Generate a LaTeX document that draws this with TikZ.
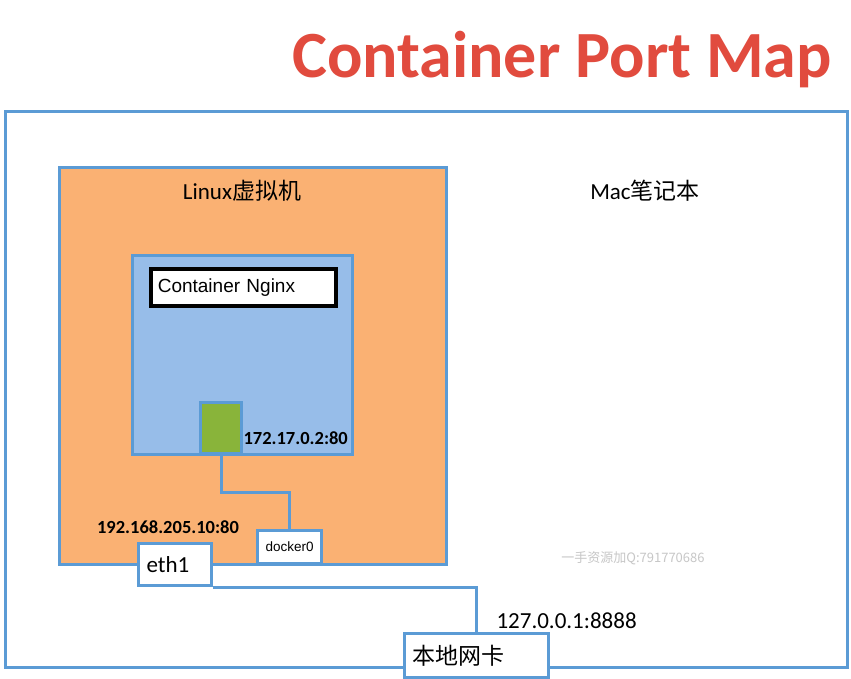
\documentclass[tikz,border=0pt]{standalone}
\usepackage{fontspec}
\setmainfont{Carlito}
\newfontfamily\cjk{Noto Sans CJK SC}
\newfontfamily\arialfont{Liberation Sans}
\usetikzlibrary{positioning}
\definecolor{edgeblue}{HTML}{5B9BD5}
\definecolor{vmorange}{HTML}{FAB173}
\definecolor{ctblue}{HTML}{97BDE9}
\definecolor{portgreen}{HTML}{89B43A}
\definecolor{titlered}{HTML}{E14B3E}

\begin{document}
\begin{tikzpicture}[x=1pt, y=-1pt, node distance=2pt]
  \tikzstyle{block} = [draw=edgeblue, line width=3.2pt, rectangle, inner sep=0pt, anchor=north west]
  \tikzstyle{iface} = [block, fill=white, inner xsep=8pt, align=left]
  \tikzstyle{addr} = [font=\bfseries\fontsize{18.5}{20}\selectfont]
  \tikzstyle{link} = [draw=edgeblue, line width=3.2pt]
  \useasboundingbox (0,0) rectangle (851,678);
  \fill [white] (0,0) rectangle (851,678);

  \node [anchor=base, text=titlered, font=\bfseries\fontsize{66}{70}\selectfont] (title) at (562,77) {Container Port Map};

  \node [block, minimum width=842pt, minimum height=556pt] (mac) at (4,110) {};
  \node [font=\fontsize{23}{26}\selectfont] (maclabel) at (645,191) {Mac\cjk 笔记本};
  \node [block, fill=vmorange, minimum width=387pt, minimum height=397pt] (linux) at (58,166) {};
  \node [font=\fontsize{23}{26}\selectfont] (linuxlabel) at (242,191) {Linux\cjk 虚拟机};

  \node [block, fill=ctblue, minimum width=220pt, minimum height=199pt] (container) at (131,254) {};
  \node [block, draw=black, line width=3.6pt, fill=white, text width=171pt, inner xsep=7pt, minimum height=37pt, align=left,
         font=\arialfont\fontsize{19}{22}\selectfont] (nginx) at (149,267) {Container Nginx};
  \node [block, fill=portgreen, minimum width=41pt, minimum height=51pt] (port) at (199,401) {};
  \node [addr, anchor=west] (ctaddr) at (240,438) {172.17.0.2:80};

  \node [block, fill=white, minimum width=64pt, minimum height=33pt,
         font=\arialfont\fontsize{13.5}{15}\selectfont] (docker) at (256,529) {docker0};
  \node [addr] (vmaddr) at (168,527) {192.168.205.10:80};

  \draw [link] (port.south) -- ++(0,37) -| (docker.north);

  \node [iface, text width=57pt, minimum height=42pt, font=\fontsize{23}{26}\selectfont] (eth) at (137,542) {eth1};
  \node [iface, text width=128pt, minimum height=44pt, font=\cjk\fontsize{23}{26}\selectfont] (nic) at (403,632) {本地网卡};
  \draw [link] (eth.south east) -| (nic.north);
  \node [anchor=west, font=\fontsize{23}{26}\selectfont] (hostaddr) at (493,621) {127.0.0.1:8888};

  \node [text=black!22, font=\cjk\fontsize{13}{15}\selectfont] (mark) at (633,558) {一手资源加Q:791770686};
\end{tikzpicture}
\end{document}
